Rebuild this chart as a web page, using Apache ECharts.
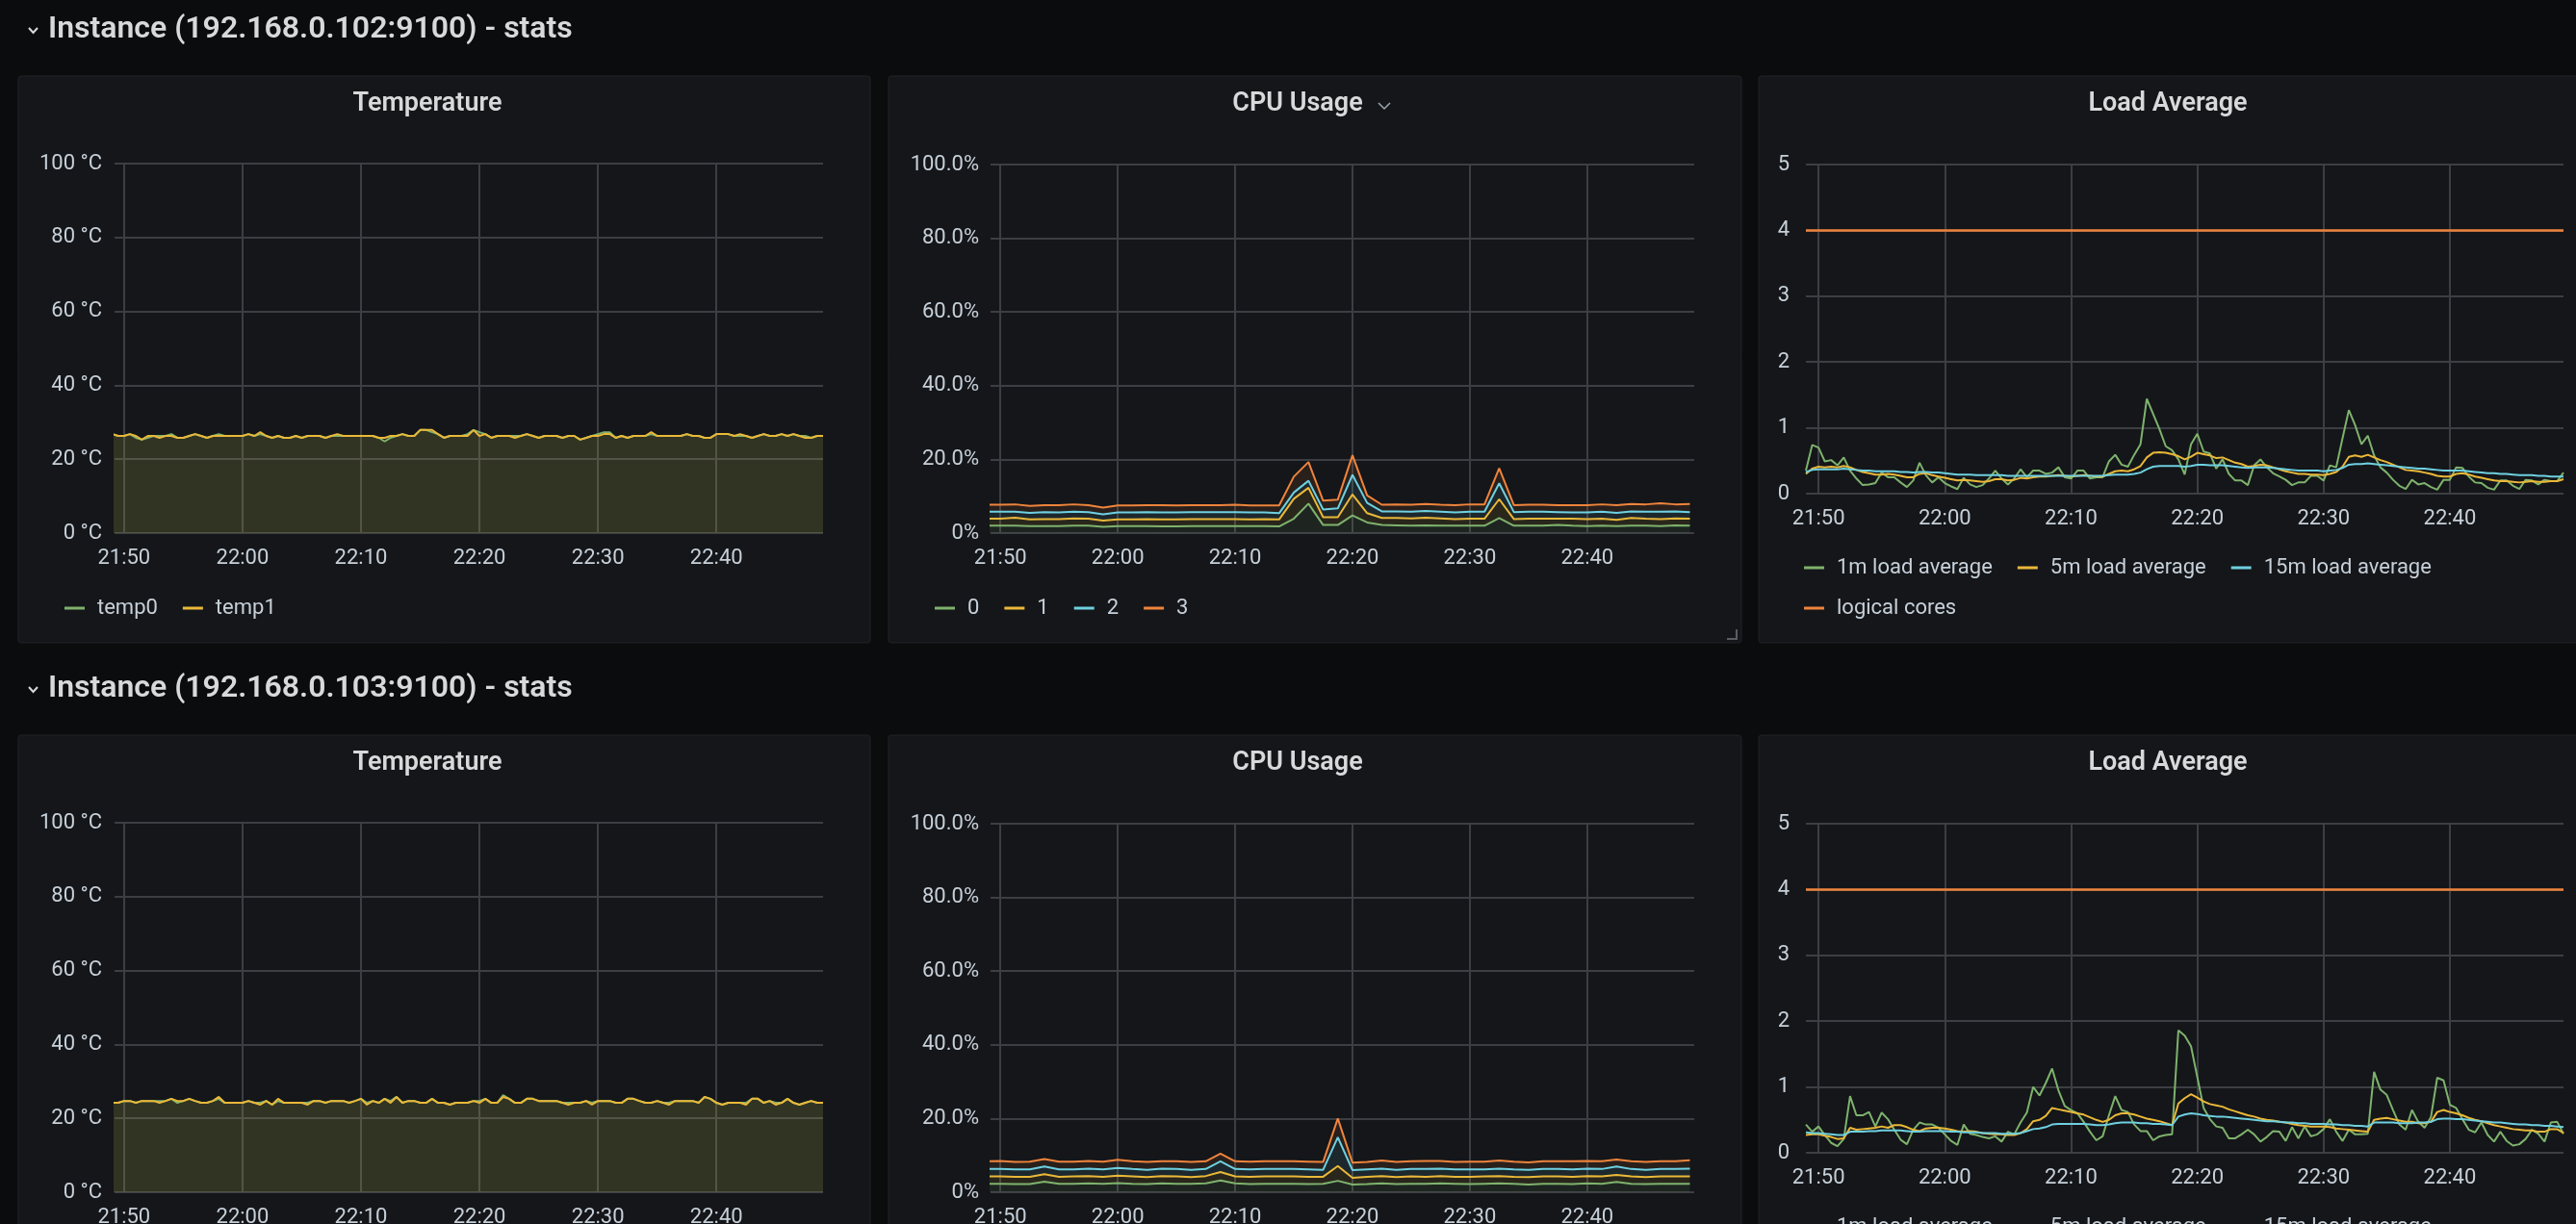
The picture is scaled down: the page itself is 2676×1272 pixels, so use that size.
<!DOCTYPE html>
<html lang="en">
<head>
<meta charset="UTF-8">
<title>Node stats</title>
<script src="https://cdn.jsdelivr.net/npm/echarts@6/dist/echarts.min.js"></script>
<style>
  html, body { margin: 0; padding: 0; background: #0b0c0e; }
  #main { width: 2676px; height: 1272px; }
</style>
</head>
<body>
<div id="main"></div>
<script type="text/javascript">
// sample times, in minutes after 21:00 (30s scrape, 75s for cpu rate)
var sampleTimes = [];
for (var i = 0; i < 121; i++) sampleTimes.push(49 + i * 0.5);
var cpuTimes = [];
for (var j = 0; j < 49; j++) cpuTimes.push(48.75 + j * 1.25);

// ---- instance 192.168.0.102 ----
var temp0A = [26.8,26.3,26.3,26.8,25.8,25.3,25.8,26.3,26.3,26.3,
  26.8,25.8,25.8,26.3,26.8,26.3,25.8,26.3,26.8,26.3,
  26.3,26.3,26.3,26.8,26.3,26.8,26.3,25.8,26.3,25.8,
  25.8,26.3,25.8,26.3,26.3,26.3,25.8,26.3,26.3,26.3,
  26.3,26.3,26.3,26.3,26.3,25.8,24.8,25.8,26.3,26.8,
  26.3,26.3,27.9,27.9,27.3,26.8,25.8,26.3,26.3,26.3,
  26.8,27.9,27.3,26.8,25.8,26.3,26.3,26.3,26.3,26.3,
  26.8,26.3,25.8,26.3,26.3,26.3,25.8,26.3,26.3,25.3,
  25.8,26.3,26.8,27.3,27.3,25.8,26.3,25.8,26.3,26.3,
  26.3,26.8,26.3,26.3,26.3,26.3,26.3,26.8,26.3,26.3,
  25.8,25.8,26.8,26.8,26.8,26.3,26.3,26.3,25.8,26.3,
  26.8,26.3,26.3,26.8,26.3,26.8,26.3,26.3,25.8,26.3,26.3];
var temp1A = [26.8,26.3,26.3,26.8,26.3,25.3,26.3,26.3,25.8,26.3,
  26.3,25.8,25.8,26.3,26.8,26.3,25.8,26.3,26.3,26.3,
  26.3,26.3,26.3,26.8,26.3,27.3,26.3,25.8,26.3,25.8,
  25.8,26.3,25.8,26.3,26.3,26.3,25.8,26.3,26.8,26.3,
  26.3,26.3,26.3,26.3,26.3,25.8,25.8,26.3,26.3,26.8,
  26.3,26.3,27.9,27.9,27.9,26.8,25.8,26.3,26.3,26.3,
  26.3,27.9,26.3,26.8,25.8,26.3,26.3,26.3,25.8,26.3,
  26.8,26.3,25.8,26.3,26.3,26.3,25.8,26.3,26.3,25.3,
  25.8,26.3,26.3,26.8,26.8,25.8,26.3,25.8,26.3,26.3,
  26.3,27.3,26.3,26.3,26.3,26.3,26.3,26.8,26.3,26.3,
  25.8,25.8,26.8,26.8,26.8,26.3,26.8,26.3,25.8,26.3,
  26.8,26.3,26.3,26.8,26.3,26.8,26.3,25.8,25.8,26.3,26.3];

var cpu0A = [2.0,2.0,2.0,1.9,1.9,1.9,2.0,2.0,1.7,1.9,1.9,1.9,1.8,1.8,1.9,1.9,1.9,1.9,1.9,1.9,
  1.8,3.9,8.0,2.2,2.2,4.8,2.9,2.2,2.1,2.0,2.1,2.0,2.0,2.0,2.0,4.1,2.0,2.0,2.0,2.2,
  2.0,1.9,2.0,1.9,2.0,2.0,1.9,2.1,2.0];
var cpu1A = [1.9,1.9,2.2,1.8,1.9,1.9,2.0,1.9,1.7,1.8,1.8,1.9,1.9,1.9,1.9,1.9,1.9,1.9,1.8,1.9,
  1.9,5.4,4.3,2.1,2.1,5.7,2.5,1.9,2.0,2.0,2.1,2.0,1.8,1.9,1.9,5.1,1.8,1.9,1.9,1.7,
  1.9,1.9,1.9,1.7,2.1,1.9,1.9,1.9,1.9];
var cpu2A = [1.9,1.9,1.6,1.8,1.9,1.8,1.8,1.8,1.7,1.9,1.9,1.9,1.9,1.9,1.9,1.9,1.9,1.9,1.9,1.8,
  1.7,1.7,1.9,2.1,2.4,5.3,2.8,1.8,1.8,1.8,1.8,1.8,1.8,1.9,1.9,4.3,1.9,1.9,1.9,1.8,
  1.7,1.8,1.9,1.9,1.8,1.9,2.0,1.9,1.8];
var cpu3A = [1.9,1.9,2.0,1.9,1.9,2.0,2.0,1.9,1.8,1.9,1.9,1.9,2.0,1.9,1.9,1.9,1.9,2.0,1.9,1.9,
  2.1,4.3,5.1,2.4,2.4,5.3,2.0,1.8,1.9,1.9,1.9,1.9,2.0,2.0,2.0,4.1,1.9,1.9,1.9,1.9,
  2.0,2.0,2.0,2.1,2.0,2.0,2.3,1.9,2.2];

var load1A = [0.35,0.74,0.70,0.49,0.51,0.43,0.55,0.35,0.23,0.13,
  0.14,0.16,0.32,0.25,0.25,0.17,0.10,0.20,0.47,0.28,
  0.17,0.25,0.16,0.11,0.07,0.24,0.14,0.10,0.13,0.23,
  0.35,0.23,0.14,0.23,0.37,0.25,0.35,0.35,0.30,0.32,
  0.40,0.25,0.23,0.35,0.35,0.23,0.25,0.25,0.49,0.59,
  0.44,0.41,0.59,0.75,1.44,1.21,0.98,0.72,0.66,0.52,
  0.29,0.75,0.91,0.64,0.61,0.38,0.52,0.30,0.20,0.20,
  0.13,0.43,0.52,0.40,0.31,0.26,0.21,0.13,0.17,0.17,
  0.27,0.27,0.20,0.43,0.40,0.84,1.27,1.04,0.75,0.88,
  0.58,0.40,0.32,0.21,0.12,0.07,0.21,0.14,0.16,0.10,
  0.06,0.21,0.21,0.40,0.39,0.26,0.17,0.16,0.09,0.06,
  0.20,0.20,0.12,0.07,0.21,0.20,0.14,0.21,0.19,0.19,0.32];
var load5A = [0.30,0.38,0.41,0.40,0.41,0.40,0.42,0.40,0.36,0.33,
  0.31,0.29,0.29,0.30,0.29,0.27,0.25,0.25,0.30,0.31,
  0.28,0.26,0.24,0.22,0.20,0.21,0.20,0.19,0.18,0.19,
  0.22,0.22,0.20,0.21,0.24,0.23,0.25,0.26,0.26,0.27,
  0.28,0.27,0.26,0.27,0.28,0.27,0.26,0.26,0.30,0.34,
  0.35,0.34,0.37,0.42,0.55,0.62,0.63,0.62,0.60,0.57,
  0.52,0.56,0.62,0.60,0.58,0.54,0.55,0.51,0.47,0.45,
  0.41,0.42,0.44,0.43,0.40,0.37,0.34,0.32,0.30,0.30,
  0.29,0.29,0.28,0.30,0.33,0.41,0.56,0.58,0.56,0.59,
  0.55,0.51,0.48,0.44,0.40,0.36,0.35,0.34,0.32,0.30,
  0.27,0.26,0.26,0.30,0.31,0.29,0.26,0.24,0.22,0.20,
  0.19,0.19,0.18,0.17,0.18,0.19,0.18,0.18,0.19,0.19,0.22];
var load15A = [0.33,0.36,0.37,0.37,0.37,0.37,0.38,0.37,0.36,0.35,
  0.35,0.34,0.34,0.34,0.34,0.33,0.33,0.32,0.33,0.33,
  0.32,0.32,0.31,0.30,0.29,0.29,0.29,0.28,0.28,0.28,
  0.28,0.28,0.27,0.27,0.27,0.27,0.27,0.27,0.27,0.27,
  0.27,0.27,0.27,0.27,0.27,0.27,0.27,0.27,0.28,0.29,
  0.29,0.29,0.30,0.32,0.37,0.41,0.42,0.42,0.42,0.42,
  0.41,0.42,0.44,0.44,0.43,0.43,0.43,0.42,0.41,0.40,
  0.39,0.40,0.40,0.40,0.39,0.38,0.37,0.36,0.35,0.35,
  0.35,0.35,0.34,0.35,0.36,0.39,0.44,0.45,0.45,0.46,
  0.45,0.44,0.43,0.42,0.41,0.40,0.39,0.38,0.38,0.37,
  0.36,0.35,0.35,0.35,0.35,0.34,0.33,0.32,0.31,0.31,
  0.30,0.30,0.29,0.28,0.28,0.28,0.27,0.27,0.26,0.26,0.26];

// ---- instance 192.168.0.103 ----
var temp0B = [24.2,24.2,24.7,24.7,24.2,24.7,24.7,24.7,24.7,24.7,
  25.3,24.2,24.7,25.3,24.7,24.2,24.2,24.7,25.3,24.2,
  24.2,24.2,24.2,24.7,24.2,24.2,24.7,23.7,24.7,24.2,
  24.2,24.2,24.2,24.2,24.7,24.7,24.2,24.7,24.7,24.7,
  24.2,24.7,25.3,24.2,24.7,24.2,25.3,24.7,25.8,24.2,
  24.7,24.7,24.2,24.2,25.3,24.2,24.2,23.7,24.2,24.2,
  24.2,24.7,24.7,25.3,24.2,24.2,26.3,25.3,24.2,24.2,
  25.3,25.3,24.7,24.7,24.7,24.7,24.2,24.2,24.2,24.2,
  24.7,24.2,24.7,24.7,24.7,24.2,24.2,25.3,25.3,24.7,
  24.2,24.2,24.7,24.2,24.2,24.7,24.7,24.7,24.7,24.2,
  25.8,25.3,24.2,23.7,24.2,24.2,24.2,24.2,25.3,25.3,
  24.2,24.7,24.2,24.2,25.3,24.2,23.7,24.2,24.7,24.2,24.2];
var temp1B = [24.2,24.2,24.7,24.7,24.2,24.7,24.7,24.7,24.2,24.7,
  25.3,24.7,24.7,25.3,24.7,24.2,24.2,24.7,25.8,24.2,
  24.2,24.2,24.2,24.7,24.2,23.7,24.7,23.7,25.3,24.2,
  24.2,24.2,24.2,23.7,24.7,24.7,24.2,24.7,24.7,24.7,
  24.2,24.7,25.3,23.7,24.7,24.2,25.3,24.2,25.8,24.2,
  24.7,24.7,24.2,24.2,25.3,24.2,24.2,23.7,24.2,24.2,
  24.2,24.7,24.2,25.3,24.2,24.2,25.8,25.3,24.2,24.2,
  25.3,25.3,24.7,24.7,24.7,24.7,24.2,23.7,24.2,24.2,
  24.7,23.7,24.7,24.7,24.7,24.2,24.2,25.3,25.3,24.7,
  24.2,24.2,24.7,24.2,23.7,24.7,24.7,24.7,24.7,24.2,
  25.8,25.3,24.2,23.7,24.2,24.2,24.2,23.7,25.3,25.3,
  24.2,24.7,23.7,24.2,25.3,24.2,23.7,24.2,24.7,24.2,24.2];

var cpu0B = [2.3,2.3,2.2,2.2,2.9,2.3,2.3,2.4,2.3,2.5,2.3,2.2,2.4,2.3,2.3,2.4,3.2,2.4,2.2,2.3,
  2.3,2.3,2.2,2.3,3.1,2.1,2.2,2.4,2.2,2.3,2.3,2.4,2.3,2.2,2.3,2.4,2.3,2.1,2.3,2.3,
  2.2,2.4,2.3,2.8,2.3,2.2,2.3,2.3,2.3];
var cpu1B = [2.0,2.0,2.0,2.0,2.0,1.9,2.0,2.0,1.9,2.0,2.0,1.9,2.0,2.0,1.8,2.0,2.3,1.9,2.0,2.0,
  2.0,2.0,2.0,1.9,4.0,1.8,2.0,2.0,1.9,2.0,1.9,2.0,1.9,2.0,2.0,2.0,1.9,2.0,2.0,2.0,
  2.0,2.0,2.0,1.9,2.0,1.9,2.0,2.0,2.0];
var cpu2B = [2.0,2.0,2.0,2.0,2.1,2.0,1.9,2.0,2.0,2.1,2.0,2.0,2.0,2.0,2.0,1.9,2.9,2.0,2.0,2.0,
  2.0,2.0,2.0,1.9,7.8,2.1,2.0,2.0,2.0,2.0,2.1,2.0,2.0,2.0,1.9,2.0,2.0,2.0,2.0,2.0,
  2.0,2.0,2.0,2.3,2.0,2.0,2.0,2.0,2.1];
var cpu3B = [2.1,2.2,2.0,2.1,2.0,2.1,2.1,2.1,2.1,2.2,2.1,2.1,2.0,2.1,2.1,2.1,2.1,2.1,2.1,2.1,
  2.1,2.1,2.1,2.1,5.1,2.0,2.0,2.2,2.1,2.1,2.2,2.1,2.0,2.1,2.1,2.2,2.1,2.0,2.1,2.1,
  2.2,2.1,2.1,1.9,2.1,2.1,2.1,2.1,2.3];

var load1B = [0.43,0.32,0.40,0.27,0.15,0.10,0.21,0.86,0.57,0.57,
  0.62,0.40,0.61,0.51,0.35,0.20,0.13,0.35,0.46,0.43,
  0.43,0.38,0.28,0.18,0.12,0.43,0.29,0.27,0.24,0.22,
  0.25,0.17,0.32,0.28,0.46,0.61,1.00,0.87,1.06,1.28,
  0.95,0.71,0.65,0.60,0.47,0.32,0.19,0.25,0.57,0.86,
  0.65,0.62,0.43,0.33,0.33,0.19,0.25,0.27,0.28,1.86,
  1.78,1.62,1.15,0.68,0.51,0.40,0.38,0.22,0.22,0.28,
  0.35,0.28,0.17,0.24,0.33,0.32,0.18,0.39,0.22,0.40,
  0.25,0.28,0.36,0.51,0.32,0.18,0.35,0.28,0.28,0.29,
  1.23,0.96,0.88,0.65,0.43,0.35,0.65,0.47,0.38,0.54,
  1.14,1.10,0.73,0.68,0.51,0.35,0.31,0.46,0.27,0.17,
  0.32,0.18,0.11,0.13,0.21,0.35,0.29,0.17,0.46,0.47,0.29];
var load5B = [0.27,0.28,0.28,0.26,0.24,0.21,0.22,0.38,0.35,0.36,
  0.37,0.38,0.40,0.38,0.42,0.42,0.39,0.35,0.33,0.37,
  0.38,0.38,0.37,0.35,0.33,0.32,0.33,0.32,0.30,0.29,
  0.28,0.28,0.27,0.27,0.30,0.36,0.48,0.50,0.56,0.68,
  0.66,0.64,0.62,0.60,0.58,0.54,0.50,0.47,0.50,0.57,
  0.60,0.60,0.58,0.55,0.52,0.50,0.48,0.45,0.42,0.75,
  0.83,0.89,0.84,0.78,0.74,0.72,0.70,0.66,0.63,0.60,
  0.57,0.55,0.52,0.50,0.49,0.47,0.46,0.44,0.42,0.41,
  0.40,0.40,0.40,0.39,0.37,0.36,0.35,0.34,0.33,0.32,
  0.50,0.52,0.53,0.51,0.49,0.47,0.47,0.45,0.45,0.47,
  0.62,0.65,0.62,0.60,0.57,0.53,0.50,0.48,0.45,0.42,
  0.40,0.38,0.36,0.35,0.34,0.34,0.32,0.32,0.36,0.36,0.30];
var load15B = [0.31,0.30,0.30,0.29,0.28,0.27,0.27,0.32,0.32,0.32,
  0.33,0.33,0.34,0.34,0.34,0.34,0.33,0.32,0.32,0.33,
  0.33,0.33,0.33,0.32,0.32,0.31,0.31,0.31,0.30,0.30,
  0.30,0.29,0.29,0.29,0.30,0.33,0.36,0.37,0.39,0.43,
  0.44,0.44,0.44,0.44,0.44,0.43,0.42,0.42,0.43,0.45,
  0.46,0.46,0.46,0.45,0.45,0.44,0.44,0.43,0.42,0.55,
  0.58,0.60,0.59,0.57,0.56,0.55,0.55,0.54,0.53,0.52,
  0.51,0.50,0.49,0.48,0.48,0.47,0.46,0.46,0.45,0.45,
  0.44,0.44,0.44,0.43,0.43,0.42,0.42,0.41,0.41,0.40,
  0.46,0.46,0.46,0.46,0.45,0.45,0.45,0.46,0.46,0.47,
  0.51,0.52,0.52,0.51,0.51,0.50,0.49,0.48,0.47,0.46,
  0.46,0.45,0.44,0.43,0.43,0.42,0.42,0.41,0.41,0.40,0.39];

var logicalCores = 4;

var rows = [
  { dy: 0, title: 'Instance (192.168.0.102:9100) - stats', temp: [temp0A, temp1A],
    cpu: [cpu0A, cpu1A, cpu2A, cpu3A], load: [load1A, load5A, load15A] },
  { dy: 685, title: 'Instance (192.168.0.103:9100) - stats', temp: [temp0B, temp1B],
    cpu: [cpu0B, cpu1B, cpu2B, cpu3B], load: [load1B, load5B, load15B] }
];

var GREEN = '#7EB26D', YELLOW = '#EAB839', BLUE = '#6ED0E0', ORANGE = '#EF843C';
var font = 'Roboto, "Noto Sans", sans-serif';
var textColor = '#c7d0d9';
var gridColor = '#3c3e43';

// minutes after 21:00 -> timestamp (UTC)
var BASE = Date.UTC(2021, 0, 1, 21, 0, 0);
function ts(m) { return BASE + Math.round(m * 60000); }

var grids = [], xAxes = [], yAxes = [], series = [], legends = [], graphics = [];

function pairs(times, vals) {
  return times.map(function (t, k) { return [ts(t), vals[k]]; });
}
function timeLabel(v) {
  var d = new Date(v);
  var h = d.getUTCHours(), m = d.getUTCMinutes();
  return h + ':' + (m < 10 ? '0' + m : m);
}

function addGrid(g) {
  var idx = grids.length;
  grids.push({ left: g.left, top: g.top, width: g.width, height: g.height, outerBoundsMode: 'none' });
  xAxes.push({
    type: 'time', gridIndex: idx, min: ts(g.xMin), max: ts(g.xMax), splitNumber: 5,
    axisLine: { show: false }, axisTick: { show: false },
    axisLabel: { color: textColor, fontSize: 22, fontFamily: font, fontWeight: 'normal', margin: 15,
      showMinLabel: false, showMaxLabel: false, hideOverlap: false, formatter: timeLabel },
    splitLine: { show: true, showMinLine: false, showMaxLine: false,
      lineStyle: { color: gridColor, width: 2 } }
  });
  yAxes.push({
    type: 'value', gridIndex: idx, min: 0, max: g.yMax, interval: g.yStep,
    axisLine: { show: false }, axisTick: { show: false },
    axisLabel: { color: textColor, fontSize: 22, fontFamily: font, margin: g.labelMargin, formatter: g.yFmt },
    splitLine: { show: true, lineStyle: { color: gridColor, width: 2 } }
  });
  return idx;
}

function line(idx, name, color, times, vals, extra) {
  var s = {
    type: 'line', name: name, xAxisIndex: idx, yAxisIndex: idx,
    data: pairs(times, vals), showSymbol: false, symbol: 'none',
    lineStyle: { color: color, width: 2 }, itemStyle: { color: color },
    emphasis: { disabled: true }
  };
  for (var k in extra) s[k] = extra[k];
  series.push(s);
}

function legend(left, top, names) {
  legends.push({
    left: left, top: top, orient: 'horizontal', icon: 'rect',
    itemWidth: 21, itemHeight: 3, itemGap: 26, selectedMode: false,
    textStyle: { color: textColor, fontSize: 22, fontFamily: font, padding: [0, 0, 0, 8] },
    data: names
  });
}

function panelBox(x, y, w, h) {
  graphics.push({ type: 'rect', z: -10, silent: true,
    shape: { x: x, y: y, width: w, height: h, r: 3 },
    style: { fill: '#141619', stroke: '#202226', lineWidth: 1 } });
}
function label(x, y, text, size, align) {
  graphics.push({ type: 'text', z: 10, silent: true, x: x, y: y,
    style: { text: text, fill: '#d8d9da', font: '600 ' + size + 'px ' + font,
      align: align, verticalAlign: 'middle', textAlign: align, textVerticalAlign: 'middle' } });
}
function chevron(pts, color, w) {
  graphics.push({ type: 'polyline', z: 10, silent: true, shape: { points: pts },
    style: { stroke: color, lineWidth: w, fill: null } });
}

rows.forEach(function (r, ri) {
  var dy = r.dy;
  // row header
  chevron([[30, 29 + dy], [34.5, 34 + dy], [39, 29 + dy]], '#d8d9da', 2);
  label(50, 31 + dy, r.title, 32, 'left');

  // panels
  panelBox(19, 79 + dy, 885, 589);
  panelBox(923, 79 + dy, 886, 589);
  panelBox(1827, 79 + dy, 886, 589);
  label(444, 108 + dy, 'Temperature', 27, 'center');
  label(1348, 108 + dy, 'CPU Usage', 27, 'center');
  label(2252, 108 + dy, 'Load Average', 27, 'center');
  if (ri === 0) {
    chevron([[1432, 107], [1438, 113], [1444, 107]], '#9fa7b3', 1.5);
    chevron([[1804, 654], [1804, 664], [1794, 664]], '#5a5c61', 2);
  }

  // Temperature
  var t = addGrid({ left: 119, top: 170 + dy, width: 736, height: 384, xMin: 49.2, xMax: 109,
    yMax: 100, yStep: 20, labelMargin: 13, yFmt: '{value} °C' });
  line(t, 'temp0', GREEN, sampleTimes, r.temp[0], { areaStyle: { color: GREEN, opacity: 0.1 } });
  line(t, 'temp1', YELLOW, sampleTimes, r.temp[1], { areaStyle: { color: YELLOW, opacity: 0.1 } });
  legend(62, 616 + dy, ['temp0', 'temp1']);

  // CPU usage (stacked per core)
  var c = addGrid({ left: 1029, top: 171 + dy, width: 731, height: 383, xMin: 49.16, xMax: 109.12,
    yMax: 100, yStep: 20, labelMargin: 12,
    yFmt: function (v) { return v === 0 ? '0%' : v.toFixed(1) + '%'; } });
  var cpuColors = [GREEN, YELLOW, BLUE, ORANGE];
  r.cpu.forEach(function (vals, k) {
    line(c, String(k), cpuColors[k], cpuTimes, vals,
      { stack: 'cpu' + ri, areaStyle: { color: cpuColors[k], opacity: 0.1 } });
  });
  legend(966, 616 + dy, ['0', '1', '2', '3']);

  // Load average
  var l = addGrid({ left: 1876, top: 171 + dy, width: 787, height: 342, xMin: 49, xMax: 109,
    yMax: 5, yStep: 1, labelMargin: 17, yFmt: '{value}' });
  line(l, '1m load average', GREEN, sampleTimes, r.load[0], {});
  line(l, '5m load average', YELLOW, sampleTimes, r.load[1], {});
  line(l, '15m load average', BLUE, sampleTimes, r.load[2], {});
  var cores = sampleTimes.map(function () { return logicalCores; });
  line(l, 'logical cores', ORANGE, sampleTimes, cores, { lineStyle: { color: ORANGE, width: 2.5 } });
  legend(1869, 574 + dy, ['1m load average', '5m load average', '15m load average']);
  legend(1869, 616 + dy, ['logical cores']);
});

var myChart = echarts.init(document.getElementById('main'), null, { renderer: 'canvas' });
myChart.setOption({
  backgroundColor: '#0b0c0e',
  animation: false,
  useUTC: true,
  textStyle: { fontFamily: font },
  tooltip: { show: false },
  grid: grids,
  xAxis: xAxes,
  yAxis: yAxes,
  legend: legends,
  graphic: { elements: graphics },
  series: series
});
</script>
</body>
</html>
